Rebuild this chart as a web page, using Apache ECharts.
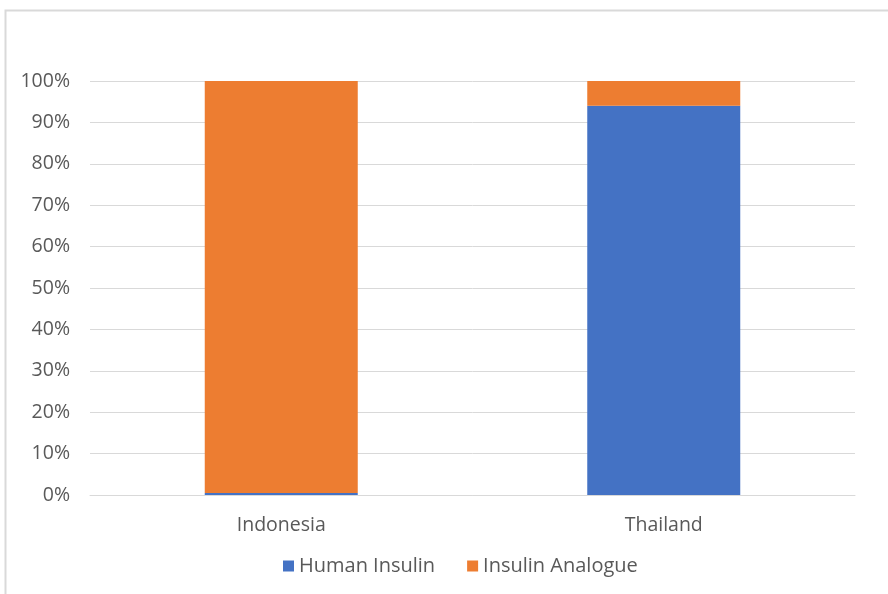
<!DOCTYPE html>
<html>
<head>
<meta charset="utf-8">
<script src="https://cdn.jsdelivr.net/npm/echarts@6/dist/echarts.min.js"></script>
<style>
  html, body { margin: 0; padding: 0; background: #ffffff; }
  #chart { width: 888px; height: 594px; }
</style>
</head>
<body>
<div id="chart"></div>
<script>
// Share of insulin types by country (percent of total)
const countries = ['Indonesia', 'Thailand'];
const humanInsulin = [0.5, 94];
const insulinAnalogue = [99.5, 6];
const seriesNames = ['Human Insulin', 'Insulin Analogue'];

const FONT = '"Open Sans"';
const TEXT = '#595959';

const chart = echarts.init(document.getElementById('chart'), null, { renderer: 'canvas' });

chart.setOption({
  backgroundColor: '#ffffff',
  animation: false,
  textStyle: { fontFamily: FONT },
  graphic: [{
    type: 'rect',
    shape: { x: 5.5, y: 10.5, width: 900, height: 600 },
    style: { fill: 'none', stroke: '#d9d9d9', lineWidth: 2 },
    silent: true
  }],
  grid: { left: 90, right: 33, top: 81, bottom: 99 },
  legend: {
    data: seriesNames,
    top: 551,
    left: 278,
    padding: 5,
    itemWidth: 11,
    itemHeight: 11,
    itemGap: 32,
    icon: 'rect',
    textStyle: { color: TEXT, fontSize: 20, fontFamily: FONT }
  },
  xAxis: {
    type: 'category',
    data: countries,
    axisLine: { show: true, lineStyle: { color: '#d9d9d9', width: 1 } },
    axisTick: { show: false },
    axisLabel: { color: TEXT, fontSize: 19.5, margin: 20, fontFamily: FONT }
  },
  yAxis: {
    type: 'value',
    min: 0,
    max: 100,
    interval: 10,
    axisLine: { show: false },
    axisTick: { show: false },
    splitLine: { lineStyle: { color: '#d9d9d9', width: 1 } },
    axisLabel: { color: TEXT, fontSize: 19.5, margin: 20, fontFamily: FONT, formatter: '{value}%' }
  },
  series: [
    {
      name: seriesNames[0],
      type: 'bar',
      stack: 'total',
      data: humanInsulin,
      barWidth: '40%',
      itemStyle: { color: '#4472C4' }
    },
    {
      name: seriesNames[1],
      type: 'bar',
      stack: 'total',
      data: insulinAnalogue,
      barWidth: '40%',
      itemStyle: { color: '#ED7D31' }
    }
  ]
});
</script>
</body>
</html>
